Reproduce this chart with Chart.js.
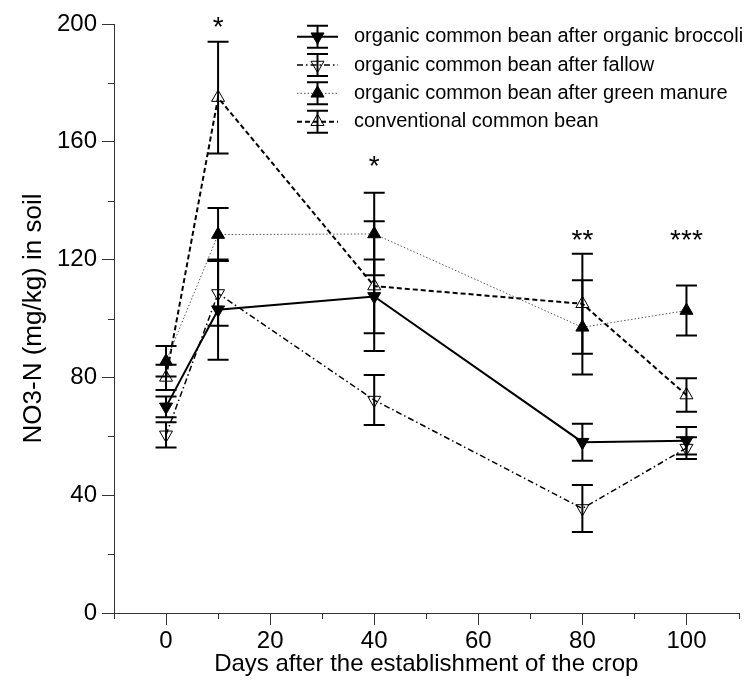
<!DOCTYPE html>
<html lang="en">
<head>
    <meta charset="UTF-8">
    <title>NO3-N in soil</title>
    <style>
        body { margin: 0; background: #fff; }
        #wrap { width: 747px; height: 682px; }
    </style>
    <script src="https://cdn.jsdelivr.net/npm/chart.js"></script>
</head>
<body>
<div id="wrap"><canvas id="myChart" width="747" height="682"></canvas></div>
<script>
    // data
    const days = [0, 10, 40, 80, 100];
    const seriesNames = [
        'organic common bean after organic broccoli',
        'organic common bean after fallow',
        'organic common bean after green manure',
        'conventional common bean'
    ];
    const broccoli = [70, 103, 107.5, 58, 58.5];
    const broccoliErr = [3.5, 17, 12.5, 6.3, 4.7];
    const fallow = [60.5, 108.5, 72.3, 35.5, 56];
    const fallowErr = [4.3, 11, 8.5, 8, 3.7];
    const greenManure = [85.5, 128.5, 128.7, 97, 102.7];
    const greenManureErr = [5.2, 9, 14, 16, 8.5];
    const conventional = [80, 175, 111, 105, 74];
    const conventionalErr = [4.3, 19, 22, 17, 5.7];

    // significance marks
    const starDays = [10, 40, 80, 100];
    const starLabels = ['*', '*', '**', '***'];
    const starLevels = [201.5, 154, 129, 129];

    const FONT = "'Liberation Sans', Arial, sans-serif";

    function points(vals) {
        return days.map((d, i) => ({ x: d, y: vals[i] }));
    }

    const datasets = [
        {
            label: seriesNames[0], data: points(broccoli), errors: broccoliErr,
            borderColor: '#000', borderWidth: 2, borderDash: [],
            pointRotation: 180, pointBackgroundColor: '#000'
        },
        {
            label: seriesNames[1], data: points(fallow), errors: fallowErr,
            borderColor: '#000', borderWidth: 1.5, borderDash: [6, 3, 1.5, 3],
            pointRotation: 180, pointBackgroundColor: 'rgba(0,0,0,0)'
        },
        {
            label: seriesNames[2], data: points(greenManure), errors: greenManureErr,
            borderColor: '#555', borderWidth: 1, borderDash: [1.5, 2],
            pointRotation: 0, pointBackgroundColor: '#000'
        },
        {
            label: seriesNames[3], data: points(conventional), errors: conventionalErr,
            borderColor: '#000', borderWidth: 2, borderDash: [5, 3],
            pointRotation: 0, pointBackgroundColor: 'rgba(0,0,0,0)'
        }
    ];
    datasets.forEach(ds => {
        ds.tension = 0;
        ds.fill = false;
        ds.pointStyle = 'triangle';
        ds.pointRadius = 7.5;
        ds.pointBorderColor = '#000';
        ds.pointBorderWidth = 1;
    });

    function triangle(ctx, x, y, r, rot, fill) {
        let a = rot * Math.PI / 180;
        ctx.beginPath();
        for (let k = 0; k < 3; k++) {
            const px = x + Math.sin(a) * r, py = y - Math.cos(a) * r;
            if (k === 0) ctx.moveTo(px, py); else ctx.lineTo(px, py);
            a += 2 * Math.PI / 3;
        }
        ctx.closePath();
        ctx.fillStyle = fill;
        ctx.fill();
        ctx.lineWidth = 1;
        ctx.strokeStyle = '#000';
        ctx.setLineDash([]);
        ctx.stroke();
    }

    function bar(ctx, x, top, bot, half) {
        ctx.beginPath();
        ctx.moveTo(x, top); ctx.lineTo(x, bot);
        ctx.moveTo(x - half, top); ctx.lineTo(x + half, top);
        ctx.moveTo(x - half, bot); ctx.lineTo(x + half, bot);
        ctx.stroke();
    }

    const errorBars = {
        id: 'errorBars',
        afterDatasetsDraw(chart) {
            const { ctx, scales: { x, y } } = chart;
            ctx.save();
            ctx.strokeStyle = '#000';
            ctx.lineWidth = 2;
            ctx.setLineDash([]);
            chart.data.datasets.forEach(ds => {
                ds.data.forEach((p, i) => {
                    const e = ds.errors[i];
                    bar(ctx, x.getPixelForValue(p.x), y.getPixelForValue(p.y + e), y.getPixelForValue(p.y - e), 10.5);
                });
            });
            ctx.restore();
        }
    };

    const extras = {
        id: 'extras',
        afterDraw(chart) {
            const { ctx, scales: { x, y }, chartArea } = chart;
            ctx.save();
            // minor ticks
            ctx.strokeStyle = '#333';
            ctx.lineWidth = 1;
            x.ticks.forEach(t => {
                if (t.value % 20 !== 0) {
                    const px = Math.round(x.getPixelForValue(t.value)) + 0.5;
                    ctx.beginPath();
                    ctx.moveTo(px, chartArea.bottom);
                    ctx.lineTo(px, chartArea.bottom + 6);
                    ctx.stroke();
                }
            });
            y.ticks.forEach(t => {
                if (t.value % 40 !== 0) {
                    const py = Math.round(y.getPixelForValue(t.value)) + 0.5;
                    ctx.beginPath();
                    ctx.moveTo(chartArea.left, py);
                    ctx.lineTo(chartArea.left - 6, py);
                    ctx.stroke();
                }
            });

            // asterisks
            ctx.fillStyle = '#000';
            ctx.font = '28px ' + FONT;
            ctx.textAlign = 'center';
            ctx.textBaseline = 'alphabetic';
            starDays.forEach((d, i) => {
                ctx.fillText(starLabels[i], x.getPixelForValue(d), y.getPixelForValue(starLevels[i]) + 16);
            });

            // legend
            const rows = [36.7, 65, 93.3, 121.7];
            chart.data.datasets.forEach((ds, i) => {
                const ry = rows[i];
                ctx.strokeStyle = ds.borderColor;
                ctx.lineWidth = ds.borderWidth;
                ctx.setLineDash(ds.borderDash);
                ctx.beginPath();
                ctx.moveTo(297, ry);
                ctx.lineTo(338, ry);
                ctx.stroke();
                ctx.setLineDash([]);
                ctx.strokeStyle = '#000';
                ctx.lineWidth = 2;
                bar(ctx, 317.5, ry - 11, ry + 11, 10.5);
                triangle(ctx, 317.5, ry, 7.5, ds.pointRotation, ds.pointBackgroundColor);
                ctx.fillStyle = '#000';
                ctx.font = '20px ' + FONT;
                ctx.textAlign = 'left';
                ctx.textBaseline = 'middle';
                ctx.fillText(ds.label, 354, ry);
            });
            ctx.restore();
        }
    };

    const ctx = document.getElementById('myChart').getContext('2d');
    const myChart = new Chart(ctx, {
        type: 'line',
        data: { datasets: datasets },
        plugins: [errorBars, extras],
        options: {
            responsive: false,
            animation: false,
            layout: { padding: { top: 24, right: 3, left: 0, bottom: 0 } },
            plugins: { legend: { display: false }, tooltip: { enabled: false } },
            scales: {
                x: {
                    type: 'linear', min: -10, max: 110,
                    ticks: {
                        stepSize: 10, autoSkip: false, maxRotation: 0, color: '#000', padding: 2,
                        font: { family: FONT, size: 24 },
                        callback: v => (v % 20 === 0 && v >= 0 && v <= 100) ? v : ''
                    },
                    grid: {
                        drawOnChartArea: false, tickLength: 12, tickWidth: 1,
                        tickColor: c => (c.tick && c.tick.value % 20 === 0) ? '#333' : 'rgba(0,0,0,0)'
                    },
                    border: { color: '#333', width: 1 },
                    title: {
                        display: true, text: 'Days after the establishment of the crop', color: '#000',
                        font: { family: FONT, size: 24 }, padding: { top: 0, bottom: 3 }
                    },
                    afterFit: s => { s.height = 69; }
                },
                y: {
                    min: 0, max: 200,
                    ticks: {
                        stepSize: 20, autoSkip: false, color: '#000', padding: 5,
                        font: { family: FONT, size: 24 },
                        callback: v => (v % 40 === 0) ? v : ''
                    },
                    grid: {
                        drawOnChartArea: false, tickLength: 12, tickWidth: 1,
                        tickColor: c => (c.tick && c.tick.value % 40 === 0) ? '#333' : 'rgba(0,0,0,0)'
                    },
                    border: { color: '#333', width: 1 },
                    title: {
                        display: true, text: 'NO3-N (mg/kg) in soil', color: '#000',
                        font: { family: FONT, size: 26 }, padding: { top: 18, bottom: 4 }
                    },
                    afterFit: s => { s.width = 114; }
                }
            }
        }
    });
</script>
</body>
</html>
